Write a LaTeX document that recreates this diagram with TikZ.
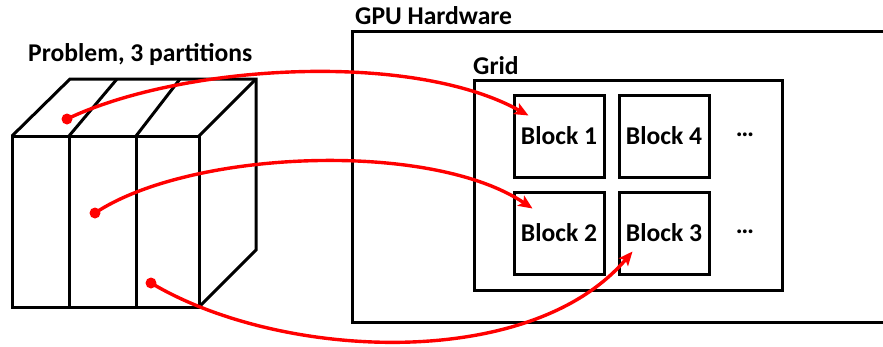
\documentclass[tikz,border=0pt]{standalone}
\usepackage{fontspec}
\setmainfont{Carlito}
\usetikzlibrary{arrows.meta,calc}
\begin{document}
\begin{tikzpicture}[x=1pt,y=-1pt,
  edge/.style={line width=3pt,black,line join=miter},
  lbl/.style={font=\fontsize{25.6}{30}\selectfont\bfseries,inner sep=0pt},
  blockbox/.style={draw,line width=3pt,minimum width=90pt,minimum height=82pt,inner sep=0pt,font=\fontsize{25.6}{30}\selectfont\bfseries},
  redarrow/.style={red,line width=3.4pt,-{Stealth[length=14pt,width=12pt,inset=3pt]}},
  reddot/.style={red,fill=red}]
\path[use as bounding box] (0,0) rectangle (883,346);
\clip (0,0) rectangle (883,346);
% labels
\node[lbl,anchor=base west] (ptitle) at (28,61) {Problem, 3 partitions};
\node[lbl,anchor=base west] (gtitle) at (355,24) {GPU Hardware};
\node[lbl,anchor=base west] (gridtitle) at (473,74) {Grid};
% GPU hardware and grid boxes
\draw[edge] (352,31) rectangle (900,322);
\draw[edge] (474,80) rectangle (782,290);
% blocks
\node[blockbox] (b1) at (559,136) {Block 1};
\node[blockbox] (b4) at (664,136) {Block 4};
\node[blockbox] (b2) at (559,233) {Block 2};
\node[blockbox] (b3) at (664,233) {Block 3};
\node[lbl] (d1) at (745,135) {…};
\node[lbl] (d2) at (745,232) {…};
% cube
\draw[edge] (12,136) rectangle (199,307);
\draw[edge] (69,136) -- (69,307);
\draw[edge] (136,136) -- (136,307);
\draw[edge] (12,136) -- (70,79) -- (256,79) -- (256,250) -- (199,307);
\draw[edge] (199,136) -- (256,79);
\draw[edge] (69,136) -- (117,79);
\draw[edge] (136,136) -- (180,79);
% arrow ends
\coordinate (p1) at (67,119);
\coordinate (p2) at (95,213);
\coordinate (p3) at (151,283);
\coordinate (t1) at ($(b1.north west)+(16,22)$);
\coordinate (t2) at ($(b2.north west)+(20,18)$);
\coordinate (t3) at ($(b3.north west)+(15,61)$);
\fill[reddot] (p1) circle (5.5);
\fill[reddot] (p2) circle (5.5);
\fill[reddot] (p3) circle (5.5);
\draw[redarrow] (p1) .. controls (180,65) and (410,50) .. (t1);
\draw[redarrow] (p2) .. controls (190,150) and (430,140) .. (t2);
\draw[redarrow] (p3) .. controls (280,360) and (530,372) .. (t3);
\end{tikzpicture}
\end{document}
